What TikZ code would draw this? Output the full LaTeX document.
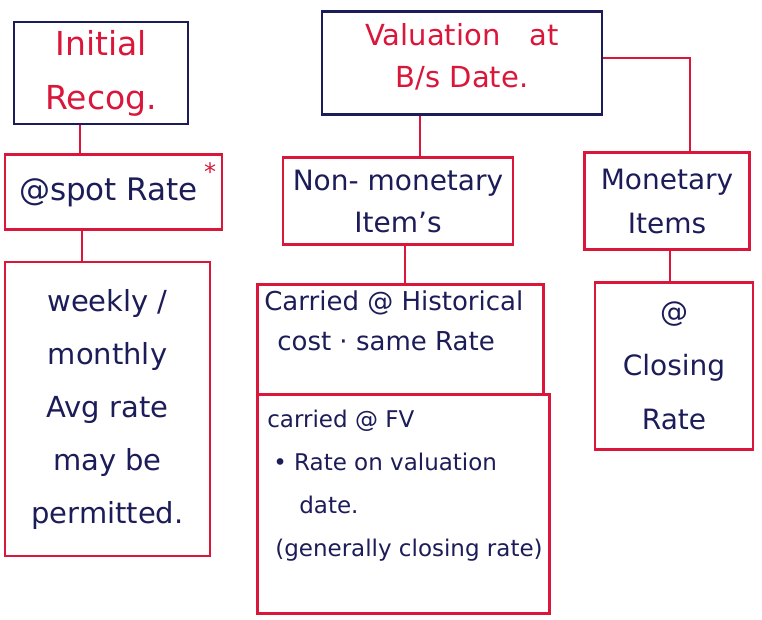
\documentclass[tikz,border=0pt]{standalone}
\usepackage{fontspec}
\setmainfont{DejaVu Sans}
\definecolor{pen}{RGB}{218,22,58}
\definecolor{ink}{RGB}{28,28,88}
\begin{document}
\begin{tikzpicture}[x=1pt,y=-1pt,
  redbox/.style={draw=pen,line width=2.6pt,inner sep=0pt,align=center,text=ink},
  bluebox/.style={draw=ink,line width=2.8pt,inner sep=0pt,align=center,text=pen},
  link/.style={draw=pen,line width=2.2pt}]
\useasboundingbox (0,0) rectangle (762,619);

% left column
\node[bluebox,font=\fontsize{33}{54}\selectfont,minimum width=174pt,minimum height=102pt] (init) at (101,73) {Initial\\Recog.};
\node[redbox,font=\fontsize{31}{40}\selectfont,minimum width=217pt,minimum height=75pt] (spot) at (113.5,192) {@spot Rate\hspace*{10pt}};
\node[text=pen,font=\fontsize{24}{24}\selectfont,inner sep=0pt] (star) at (210,172) {*};
\node[redbox,font=\fontsize{29}{53}\selectfont,minimum width=205pt,minimum height=294pt] (weekly) at (107.5,409) {weekly /\\monthly\\Avg rate\\may be\\permitted.};

% middle column
\node[bluebox,font=\fontsize{29}{42}\selectfont,minimum width=280pt,minimum height=103pt] (val) at (462,63) {Valuation\quad at\\B/s Date.\\[-26pt]};
\node[redbox,font=\fontsize{28}{42}\selectfont,minimum width=230pt,minimum height=87pt] (nonmon) at (398,201) {Non- monetary\\Item's};
\node[redbox,anchor=north west] (hist) at (256,283)
  {\parbox[t][110pt][t]{286pt}{\fontsize{26}{40}\selectfont\vspace*{6pt}\hspace*{7pt}Carried @ Historical\\\hspace*{20pt}cost · same Rate}};
\node[redbox,anchor=north west,yshift=2.6pt] (fv) at (hist.south west)
  {\parbox[t][219pt][t]{292pt}{\fontsize{23}{43}\selectfont\vspace*{16pt}\hspace*{10pt}carried @ FV\\\hspace*{16pt}• Rate on valuation\\\hspace*{42pt}date.\\\hspace*{18pt}(generally closing rate)}};

% right column
\node[redbox,font=\fontsize{28}{44}\selectfont,minimum width=165pt,minimum height=97pt] (mon) at (667,201) {Monetary\\Items};
\node[redbox,font=\fontsize{28}{54}\selectfont,minimum width=158pt,minimum height=167pt] (close) at (674,366) {@\\Closing\\Rate};

% connectors
\draw[link] (init.south -| 80,0) -- (spot.north -| 80,0);
\draw[link] (spot.south -| 82,0) -- (weekly.north -| 82,0);
\draw[link] (val.south -| 420,0) -- (nonmon.north -| 420,0);
\draw[link] (val.east |- 0,58) -| (mon.north -| 690,0);
\draw[link] (nonmon.south -| 405,0) -- (hist.north -| 405,0);
\draw[link] (mon.south -| 670,0) -- (close.north -| 670,0);
\end{tikzpicture}
\end{document}
